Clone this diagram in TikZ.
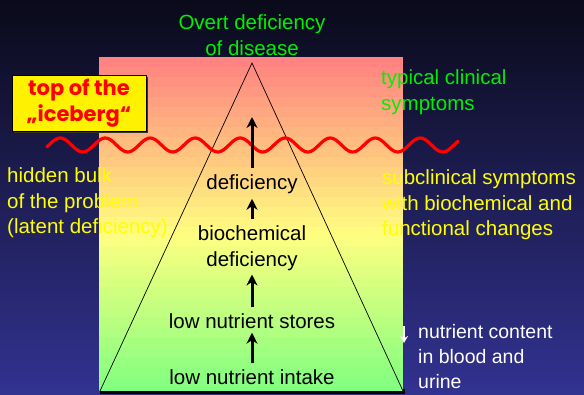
\documentclass[tikz,border=0pt]{standalone}
\usepackage{fontspec}
\setmainfont{Liberation Sans}
\newfontfamily\boxfont{Poppins}
\usepackage{tikz}
\usetikzlibrary{positioning, arrows.meta}
\definecolor{bgtop}{RGB}{10,10,26}
\definecolor{bgbottom}{RGB}{50,50,145}
\definecolor{labelgreen}{RGB}{0,240,0}
\definecolor{labelyellow}{RGB}{255,255,0}
\tikzset{
	bigtext/.style={font=\fontsize{20.5}{25.5}\selectfont, inner sep=0pt}
}
\tikzset{
	levelarrow/.style={line width=3pt, -{Stealth[length=11pt, width=11pt]}}
}
\tikzset{
	sidegreen/.style={bigtext, text=labelgreen, align=left, anchor=west},
	sideyellow/.style={bigtext, text=labelyellow, align=left, anchor=west}
}

\begin{document}
\begin{tikzpicture}[x=1pt, y=-1pt, >=stealth]
      \useasboundingbox (0,0) rectangle (584,394);
      % dark slide background
      \shade[top color=bgtop, bottom color=bgbottom] (0,0) rectangle (584,394);
      % the iceberg panel, in bands from red over yellow to green
      \fill[black] (100,389) rectangle (405,394);
      \foreach \i in {0,...,33}{
        \pgfmathsetmacro\ymid{62+\i*10}
        \pgfmathtruncatemacro\gv{min(255,128+(max(0,\ymid-57)/178)*127)}
        \pgfmathtruncatemacro\rv{255-(max(0,\ymid-235)/156)*127}
        \definecolor{band}{RGB}{\rv,\gv,128}
        \fill[band] (99,{57+\i*10}) rectangle (403,{min(391,67.4+\i*10)});
      }
      \draw[line width=0.7pt] (100,391) -- (252,63) -- (403,391);
      % water line
      \draw[red, line width=3.2pt, line cap=round] plot[domain=47:458, samples=200] (\x, {145 - 7*sin((\x-49)/45*360)});
      % callout box
      \fill[black!80] (14,77) rectangle (148,133);
      \node[draw, thick, fill=yellow, minimum width=134pt, minimum height=56pt, inner sep=0pt] (tipbox) at (79,103) {};
      \node[font=\boxfont\bfseries\fontsize{21}{26}\selectfont, text=red, align=center, inner sep=0pt] (tiptext) at (tipbox.center) {top of the\\„iceberg“};
      % labels round the iceberg
      \node[bigtext, text=labelgreen, align=center] (overt) at (252,35) {Overt deficiency\\of disease};
      \node[sidegreen] (clinical) at (381,92) {typical clinical\\symptoms};
      \node[sideyellow] (hidden) at (7,203) {hidden bulk\\of the problem\\(latent deficiency)};
      \node[sideyellow] (subclin) at (382,205) {subclinical symptoms\\with biochemical and\\functional changes};
      % stages inside the iceberg
      \node[bigtext] (deficiency) at (252,184) {deficiency};
      \node[bigtext, align=center] (biochem) at (252,248) {biochemical\\deficiency};
      \node[bigtext] (stores) at (252,321) {low nutrient stores};
      \node[bigtext] (intake) at (252,377) {low nutrient intake};
      \coordinate (tipend) at (252,117);
      \draw[levelarrow] (deficiency.north) ++(0,-6) -- (tipend);
      \draw[levelarrow, shorten >=5pt, shorten <=6pt] (biochem.north) -- (deficiency.south);
      \draw[levelarrow, shorten >=4pt, shorten <=6pt] (stores.north) -- (biochem.south);
      \draw[levelarrow, shorten >=4pt, shorten <=6pt] (intake.north) -- (stores.south);
      % white note at the lower right
      \node[bigtext, text=white, align=left, anchor=west, font=\fontsize{19.5}{25}\selectfont] (content) at (418,357) {nutrient content\\in blood and\\urine};
      \coordinate (downtop) at (404,326);
      \coordinate (downend) at (404,343);
      \draw[white, line width=1.8pt, -{Stealth[length=7pt, width=8pt]}] (downtop) -- (downend);
    \end{tikzpicture}
\end{document}
